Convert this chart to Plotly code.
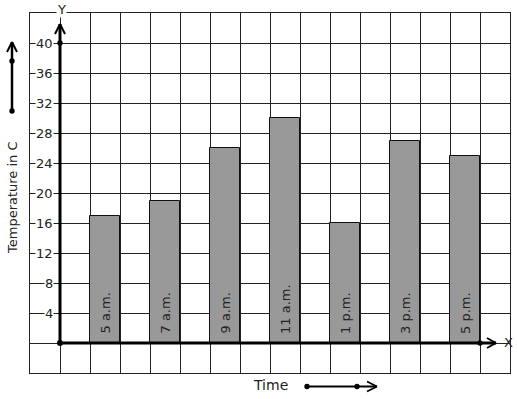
import plotly.graph_objects as go

# ---- data ----
times = ["5 a.m.", "7 a.m.", "9 a.m.", "11 a.m.", "1 p.m.", "3 p.m.", "5 p.m."]
temps = [17, 19, 26, 30, 16, 27, 25]
ytick_vals = [4, 8, 12, 16, 20, 24, 28, 32, 36, 40]
ytick_text = [str(v) for v in ytick_vals]

W, H = 517, 399
L, R, T, B = 30, 7, 13, 26
PW, PH = W - L - R, H - T - B


def fx(px):
    return (px - L) / PW


def fy(py):
    return (H - B - py) / PH


FONT = "DejaVu Sans"

xpos = [1.5 + 2 * i for i in range(len(times))]

fig = go.Figure()
fig.add_trace(go.Bar(
    x=xpos, y=temps, width=1,
    marker=dict(color="#999999", line=dict(color="#111111", width=1)),
    hoverinfo="skip",
))

shapes = []
annotations = []


def seg(x0, y0, x1, y1, w=2.5):
    shapes.append(dict(type="line", xref="paper", yref="paper",
                       x0=fx(x0), y0=fy(y0), x1=fx(x1), y1=fy(y1),
                       line=dict(color="black", width=w), layer="above"))


def dot(x, y, r=2.7):
    shapes.append(dict(type="circle", xref="paper", yref="paper",
                       x0=fx(x - r), x1=fx(x + r), y0=fy(y + r), y1=fy(y - r),
                       fillcolor="black", line=dict(color="black", width=0), layer="above"))


# y axis (thick) with arrow
seg(60, 343, 60, 24, 3)
seg(60, 24, 55, 34, 2)
seg(60, 24, 65, 34, 2)
dot(60, 343, 3)
dot(60, 43)
# x axis (thick) with arrow
seg(60, 343, 496, 343, 3)
seg(496, 343, 487, 338, 2)
seg(496, 343, 487, 348, 2)
dot(480, 343)
# left arrow
seg(12, 111, 12, 42, 2.5)
seg(12, 42, 7, 52, 2)
seg(12, 42, 17, 52, 2)
dot(12, 61)
dot(12, 111)
# time arrow
seg(307, 386.5, 377, 386.5, 2)
seg(377, 386.5, 367, 381.5, 1.8)
seg(377, 386.5, 367, 391.5, 1.8)
dot(307, 386.5)
dot(357, 386.5)

# y tick labels with white background
for v, t in zip(ytick_vals, ytick_text):
    annotations.append(dict(x=fx(54), y=v, xref="paper", yref="y", text=t,
                            showarrow=False, xanchor="right", yanchor="middle",
                            bgcolor="white", borderpad=0,
                            font=dict(family=FONT, size=13, color="#222222")))

# bar labels
for xv, t in zip(xpos, times):
    annotations.append(dict(x=xv, y=0, xref="x", yref="y", text=t,
                            showarrow=False, textangle=-90, xanchor="center",
                            yanchor="bottom", yshift=8, borderpad=0,
                            font=dict(family=FONT, size=13, color="#222222")))


def label(px, py, text, size, angle=0, bg=None):
    d = dict(x=fx(px), y=fy(py), xref="paper", yref="paper", text=text,
             showarrow=False, xanchor="center", yanchor="middle", textangle=angle,
             borderpad=0, font=dict(family=FONT, size=size, color="#222222"))
    if bg:
        d["bgcolor"] = bg
    annotations.append(d)


label(61, 9, "Y", 13, bg="white")
label(508, 342, "X", 13)
label(270, 385, "Time", 14)
label(13, 198, "Temperature in C", 13, angle=-90)

fig.update_layout(
    width=W, height=H,
    margin=dict(l=L, r=R, t=T, b=B),
    paper_bgcolor="white", plot_bgcolor="white",
    showlegend=False,
    xaxis=dict(range=[-1, 15], tick0=0, dtick=1, showgrid=True, gridcolor="#222222",
               gridwidth=1, showticklabels=False, ticks="", zeroline=False,
               showline=True, mirror=True, linecolor="#222222", linewidth=1,
               fixedrange=True),
    yaxis=dict(range=[-4, 44], tick0=0, dtick=4, showgrid=True, gridcolor="#222222",
               gridwidth=1, showticklabels=False, ticks="", zeroline=False,
               showline=True, mirror=True, linecolor="#222222", linewidth=1,
               fixedrange=True),
    shapes=shapes,
    annotations=annotations,
    bargap=0,
)

fig.write_html("out.html", config={"displayModeBar": False})
